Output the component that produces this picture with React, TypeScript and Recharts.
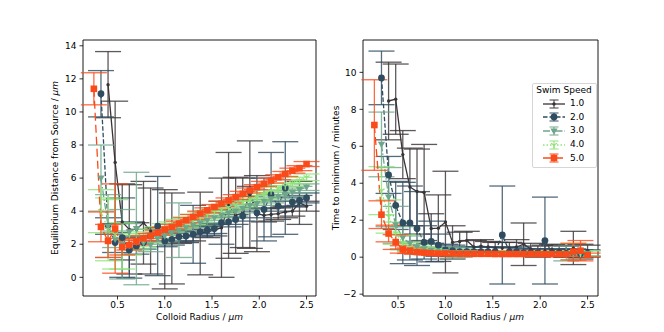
import React from 'react'
import { ComposedChart, Line, ErrorBar, XAxis, YAxis, ReferenceArea, Label } from 'recharts'

const radii = [
  0.25, 0.325, 0.4, 0.475, 0.55, 0.625, 0.7, 0.775, 0.85, 0.925, 1.0, 1.075, 1.15, 1.225, 1.3, 1.375,
  1.45, 1.525, 1.6, 1.675, 1.75, 1.825, 1.9, 1.975, 2.05, 2.125, 2.2, 2.275, 2.35, 2.425, 2.5,
]

const speeds = ['1.0', '2.0', '3.0', '4.0', '5.0']
const xTicks = [0.5, 1.0, 1.5, 2.0, 2.5]
const distanceTicks = [0, 2, 4, 6, 8, 10, 12, 14]
const timeTicks = [-2, 0, 2, 4, 6, 8, 10]

// equilibrium distance (left panel)
const dist1 = [null, null, 11.65, 6.95, 3.35, 2.9, 2.9, 3.3, 2.8, 2.6, 2.3, 2.35, 2.45, 2.5, 2.55, 2.65, 2.75, 2.85, 3.0, 4.35, 3.75, 3.9, 5.0, 3.85, 3.75, 3.8, 3.85, 3.95, 4.0, 4.5, 4.3]
const dist1Err = [null, null, 2.0, 3.7, 2.3, 2.7, 0.4, 2.5, 2.6, 0.4, 3.0, 2.75, 0.4, 0.4, 0.35, 2.5, 0.35, 0.35, 3.0, 3.2, 2.3, 2.1, 3.25, 2.3, 0.4, 0.4, 0.35, 0.35, 0.3, 1.3, 0.3]
const dist2 = [null, 11.1, 3.1, 2.1, 2.4, 1.65, 1.9, 2.1, 2.5, 3.1, 2.2, 2.3, 2.45, 2.5, 2.6, 2.75, 2.85, 2.95, 3.3, 3.35, 3.5, 3.7, 5.2, 3.9, 4.1, 5.0, 4.3, 5.4, 4.55, 4.65, 4.8]
const dist2Err = [null, 1.4, 0.5, 0.6, 2.4, 1.7, 0.5, 0.4, 0.4, 3.0, 0.35, 0.35, 0.3, 0.3, 1.75, 0.3, 0.3, 0.3, 1.3, 0.3, 0.3, 0.3, 0.3, 0.3, 1.9, 2.55, 0.3, 2.8, 0.3, 0.3, 0.3]
const dist3 = [null, 6.0, 3.1, 2.3, 2.0, 2.75, 2.95, 2.1, 1.95, 2.35, 2.5, 2.7, 2.85, 3.0, 3.15, 3.3, 3.45, 3.6, 3.75, 3.9, 4.0, 4.15, 4.35, 4.45, 4.6, 4.75, 4.9, 5.0, 5.15, 5.3, 5.45]
const dist3Err = [null, 2.0, 1.9, 0.5, 2.1, 0.5, 3.4, 0.4, 0.4, 0.35, 0.35, 0.35, 1.65, 0.3, 0.3, 0.3, 0.3, 0.3, 0.3, 0.3, 0.3, 0.25, 0.25, 0.25, 0.25, 0.25, 0.25, 0.25, 0.25, 0.2, 0.2]
const dist4 = [null, 4.0, 2.9, 2.6, 1.9, 1.95, 2.15, 2.3, 2.5, 2.7, 2.9, 3.05, 3.2, 3.35, 3.5, 3.65, 3.8, 3.95, 4.1, 4.25, 4.4, 4.55, 4.7, 4.85, 5.0, 5.2, 5.35, 5.5, 5.7, 5.85, 6.05]
const dist4Err = [null, 1.3, 1.9, 2.1, 1.4, 0.6, 0.5, 0.45, 0.4, 0.35, 0.35, 0.3, 0.3, 0.3, 0.3, 0.3, 0.25, 0.25, 0.25, 0.25, 0.25, 0.25, 0.25, 0.25, 0.25, 0.25, 0.2, 0.2, 0.2, 0.2, 0.2]
const dist5 = [11.4, 3.05, 2.2, 2.95, 1.85, 1.95, 2.15, 2.35, 2.5, 2.7, 2.88, 3.05, 3.25, 3.45, 3.65, 3.85, 4.05, 4.25, 4.45, 4.65, 4.85, 5.05, 5.25, 5.45, 5.65, 5.85, 6.05, 6.25, 6.45, 6.6, 6.85]
const dist5Err = [0.97, 0.9, 1.0, 2.7, 0.5, 0.3, 0.2, 0.15, 0.15, 0.15, 0.15, 0.15, 0.15, 0.15, 0.15, 0.15, 0.15, 0.15, 0.15, 0.15, 0.15, 0.15, 0.15, 0.15, 0.15, 0.15, 0.15, 0.15, 0.15, 0.15, 0.15]

// time to minimum (right panel)
const time1 = [null, null, 8.45, 8.55, 5.55, 3.8, 3.55, 3.5, 1.55, 1.57, 1.9, 0.8, 0.85, 0.9, 0.55, 0.6, 0.55, 0.5, 0.5, 0.5, 0.55, 0.7, 0.45, 0.3, 0.35, 0.4, 0.35, 0.3, 0.5, 0.3, 0.35]
const time1Err = [null, null, 2.1, 1.9, 1.3, 2.1, 2.3, 2.6, 0.8, 1.8, 2.75, 0.9, 0.5, 0.5, 0.35, 0.35, 0.3, 0.3, 0.3, 0.3, 0.4, 1.15, 0.3, 0.3, 0.3, 0.3, 0.3, 0.3, 0.9, 0.4, 0.3]
const time2 = [null, 9.7, 4.45, 2.8, 1.85, 1.85, 1.55, 0.8, 0.85, 0.65, 0.4, 0.35, 0.3, 0.3, 0.3, 0.3, 0.3, 0.3, 1.2, 0.3, 0.3, 0.25, 0.25, 0.25, 0.9, 0.25, 0.25, 0.2, 0.25, 0.2, 0.2]
const time2Err = [null, 1.45, 1.0, 1.3, 2.2, 2.0, 2.0, 0.9, 1.1, 0.6, 0.3, 0.3, 0.25, 0.25, 0.25, 0.25, 0.25, 0.25, 2.65, 0.25, 0.25, 0.2, 0.2, 0.2, 2.35, 0.2, 0.2, 0.2, 0.2, 0.2, 0.2]
const time3 = [null, 6.1, 3.25, 1.75, 1.05, 0.75, 0.55, 0.45, 0.35, 0.3, 0.3, 0.25, 0.25, 0.25, 0.25, 0.2, 0.2, 0.2, 0.2, 0.2, 0.2, 0.2, 0.2, 0.2, 0.2, 0.2, 0.2, 0.2, 0.2, 0.2, 0.2]
const time3Err = [null, 1.75, 1.6, 1.0, 0.6, 0.4, 0.3, 0.25, 0.2, 0.2, 0.2, 0.3, 0.25, 0.15, 0.15, 0.15, 0.15, 0.15, 0.15, 0.15, 0.15, 0.15, 0.15, 0.15, 0.15, 0.15, 0.15, 0.4, 0.15, 0.15, 0.15]
const time4 = [null, 3.6, 2.2, 1.3, 0.8, 0.55, 0.4, 0.35, 0.3, 0.3, 0.25, 0.25, 0.25, 0.2, 0.2, 0.2, 0.2, 0.2, 0.2, 0.2, 0.2, 0.2, 0.2, 0.2, 0.2, 0.2, 0.2, 0.2, 0.3, 0.2, 0.2]
const time4Err = [null, 1.3, 0.9, 0.6, 0.4, 0.25, 0.2, 0.2, 0.15, 0.15, 0.15, 0.15, 0.15, 0.15, 0.15, 0.15, 0.15, 0.15, 0.15, 0.15, 0.15, 0.15, 0.15, 0.15, 0.15, 0.15, 0.15, 0.15, 0.45, 0.15, 0.15]
const time5 = [7.15, 2.3, 1.28, 0.82, 0.42, 0.35, 0.28, 0.25, 0.22, 0.2, 0.2, 0.2, 0.18, 0.18, 0.18, 0.18, 0.18, 0.17, 0.17, 0.17, 0.17, 0.17, 0.17, 0.17, 0.16, 0.16, 0.16, 0.16, 0.3, 0.35, 0.12]
const time5Err = [2.45, 0.75, 0.45, 0.4, 0.2, 0.15, 0.12, 0.1, 0.1, 0.1, 0.1, 0.1, 0.1, 0.1, 0.1, 0.1, 0.1, 0.1, 0.1, 0.1, 0.1, 0.1, 0.1, 0.1, 0.1, 0.1, 0.1, 0.1, 0.45, 0.55, 0.1]

const FONT = '"DejaVu Sans", sans-serif'

type Kind = 'dot' | 'circle' | 'tri' | 'tri1' | 'square'

const looks: { color: string; dash?: string; kind: Kind }[] = [
  { color: '#3b3437', kind: 'dot' },
  { color: '#2f4c60', dash: '4.5 2', kind: 'circle' },
  { color: '#6fa68b', dash: '7 2 1.5 2', kind: 'tri' },
  { color: '#8fe378', dash: '1.5 2', kind: 'tri1' },
  { color: '#fb4a1a', dash: '8 4', kind: 'square' },
]

function Marker({ kind, cx, cy, color }: { kind: Kind; cx: number; cy: number; color: string }) {
  if (cx == null || cy == null || isNaN(cx) || isNaN(cy)) return null
  switch (kind) {
    case 'dot':
      return <circle cx={cx} cy={cy} r={1.7} fill={color} />
    case 'circle':
      return <circle cx={cx} cy={cy} r={3.4} fill={color} />
    case 'tri':
      return <path d={`M${cx - 3.6},${cy - 2.6}L${cx + 3.6},${cy - 2.6}L${cx},${cy + 3.8}Z`} fill={color} />
    case 'tri1':
      return (
        <path
          d={`M${cx},${cy}L${cx},${cy + 3.5}M${cx},${cy}L${cx - 3},${cy - 1.75}M${cx},${cy}L${cx + 3},${cy - 1.75}`}
          stroke={color}
          strokeWidth={1.2}
          fill="none"
        />
      )
    default:
      return <rect x={cx - 3.3} y={cy - 3.3} width={6.6} height={6.6} fill={color} />
  }
}

function toPoints(ys: (number | null)[], es: (number | null)[]) {
  return radii
    .map((x, i) => ({ x, y: ys[i], e: es[i] }))
    .filter((p) => p.y != null)
}

const minus = (v: number) => (v < 0 ? '\u2212' + Math.abs(v) : String(v))

interface PanelProps {
  width: number
  margin: { top: number; right: number; bottom: number; left: number }
  yAxisWidth: number
  xDomain: [number, number]
  yDomain: [number, number]
  yTicks: number[]
  values: (number | null)[][]
  errors: (number | null)[][]
  yLabel: string
  yItalic?: string
  yLabelX: number
  xLabelX: number
}

function Panel(p: PanelProps) {
  const tickStyle = { fontSize: 9, fill: '#000', fontFamily: FONT }
  return (
    <ComposedChart width={p.width} height={332} margin={p.margin}>
      <XAxis
        type="number"
        dataKey="x"
        domain={p.xDomain}
        allowDataOverflow
        ticks={xTicks}
        tickFormatter={(v: number) => v.toFixed(1)}
        tick={tickStyle}
        tickLine={{ stroke: '#000', strokeWidth: 0.8 }}
        tickSize={3.5}
        tickMargin={2}
        axisLine={false}
        height={36}
      >
        <Label
          content={() => (
            <text x={p.xLabelX} y={320} textAnchor="middle" fontSize={9} fontFamily={FONT} fill="#000">
              Colloid Radius / <tspan fontStyle="italic">μm</tspan>
            </text>
          )}
        />
      </XAxis>
      <YAxis
        type="number"
        domain={p.yDomain}
        allowDataOverflow
        ticks={p.yTicks}
        tickFormatter={minus}
        tick={tickStyle}
        tickLine={{ stroke: '#000', strokeWidth: 0.8 }}
        tickSize={3.5}
        tickMargin={3}
        axisLine={false}
        width={p.yAxisWidth}
      >
        <Label
          content={() => (
            <text
              x={p.yLabelX}
              y={168}
              transform={`rotate(-90 ${p.yLabelX} 168)`}
              textAnchor="middle"
              fontSize={9}
              fontFamily={FONT}
              fill="#000"
            >
              {p.yLabel}
              {p.yItalic ? <tspan fontStyle="italic">{p.yItalic}</tspan> : null}
            </text>
          )}
        />
      </YAxis>
      <ReferenceArea
        x1={p.xDomain[0]}
        x2={p.xDomain[1]}
        y1={p.yDomain[0]}
        y2={p.yDomain[1]}
        fill="none"
        fillOpacity={0}
        stroke="#000"
        strokeWidth={0.9}
      />
      {p.values.map((ys, i) => {
        const look = looks[i]
        return (
          <Line
            key={speeds[i]}
            data={toPoints(ys, p.errors[i])}
            dataKey="y"
            name={speeds[i]}
            stroke={look.color}
            strokeWidth={1.3}
            strokeDasharray={look.dash}
            isAnimationActive={false}
            activeDot={false}
            dot={(d: any) => (
              <Marker key={`${speeds[i]}-${d.index}`} kind={look.kind} cx={d.cx} cy={d.cy} color={look.color} />
            )}
          >
            <ErrorBar
              dataKey="e"
              direction="y"
              width={13}
              stroke={look.color}
              strokeOpacity={0.82}
              strokeWidth={1.3}
              isAnimationActive={false}
            />
          </Line>
        )
      })}
    </ComposedChart>
  )
}

function LegendBox() {
  return (
    <div
      style={{
        position: 'absolute',
        left: 531.5,
        top: 82.5,
        width: 63,
        height: 83,
        border: '1px solid #d6d6d6',
        borderRadius: 2,
        background: 'rgba(255,255,255,0.85)',
        fontFamily: FONT,
        fontSize: 9,
        color: '#000',
      }}
    >
      <div style={{ position: 'absolute', left: 0, width: 63, top: 1, textAlign: 'center', lineHeight: '11px' }}>
        Swim Speed
      </div>
      {speeds.map((s, i) => {
        const look = looks[i]
        const cy = 20 + i * 13.7
        return (
          <div key={s} style={{ position: 'absolute', left: 0, top: cy - 6, height: 12, width: 63 }}>
            <svg width={22} height={12} style={{ position: 'absolute', left: 10, top: 0 }}>
              <line x1={0} y1={6} x2={22} y2={6} stroke={look.color} strokeWidth={1.3} strokeDasharray={look.dash} />
              <g stroke={look.color} strokeOpacity={0.82} strokeWidth={1.2}>
                <line x1={11} y1={2} x2={11} y2={10} />
                <line x1={6.5} y1={2} x2={15.5} y2={2} />
                <line x1={6.5} y1={10} x2={15.5} y2={10} />
              </g>
              <Marker kind={look.kind} cx={11} cy={6} color={look.color} />
            </svg>
            <div style={{ position: 'absolute', left: 37.5, top: 0.5, lineHeight: '11px' }}>{s}</div>
          </div>
        )
      })}
    </div>
  )
}

export default function App() {
  return (
    <div
      style={{
        position: 'absolute',
        left: 0,
        top: 0,
        width: 664,
        height: 332,
        background: '#fff',
        fontFamily: FONT,
      }}
    >
      <div style={{ position: 'absolute', left: 0, top: 0 }}>
        <Panel
          width={330}
          margin={{ top: 40, right: 14, bottom: 0, left: 0 }}
          yAxisWidth={83}
          xDomain={[0.135, 2.6]}
          yDomain={[-1.13, 14.35]}
          yTicks={distanceTicks}
          values={[dist1, dist2, dist3, dist4, dist5]}
          errors={[dist1Err, dist2Err, dist3Err, dist4Err, dist5Err]}
          yLabel="Equilibrium Distance from Source / "
          yItalic="μm"
          yLabelX={58}
          xLabelX={199.5}
        />
      </div>
      <div style={{ position: 'absolute', left: 330, top: 0 }}>
        <Panel
          width={334}
          margin={{ top: 40, right: 66, bottom: 0, left: 0 }}
          yAxisWidth={33}
          xDomain={[0.13, 2.61]}
          yDomain={[-2.1, 11.75]}
          yTicks={timeTicks}
          values={[time1, time2, time3, time4, time5]}
          errors={[time1Err, time2Err, time3Err, time4Err, time5Err]}
          yLabel="Time to minimum / minutes"
          yLabelX={8.8}
          xLabelX={150.5}
        />
      </div>
      <LegendBox />
    </div>
  )
}
